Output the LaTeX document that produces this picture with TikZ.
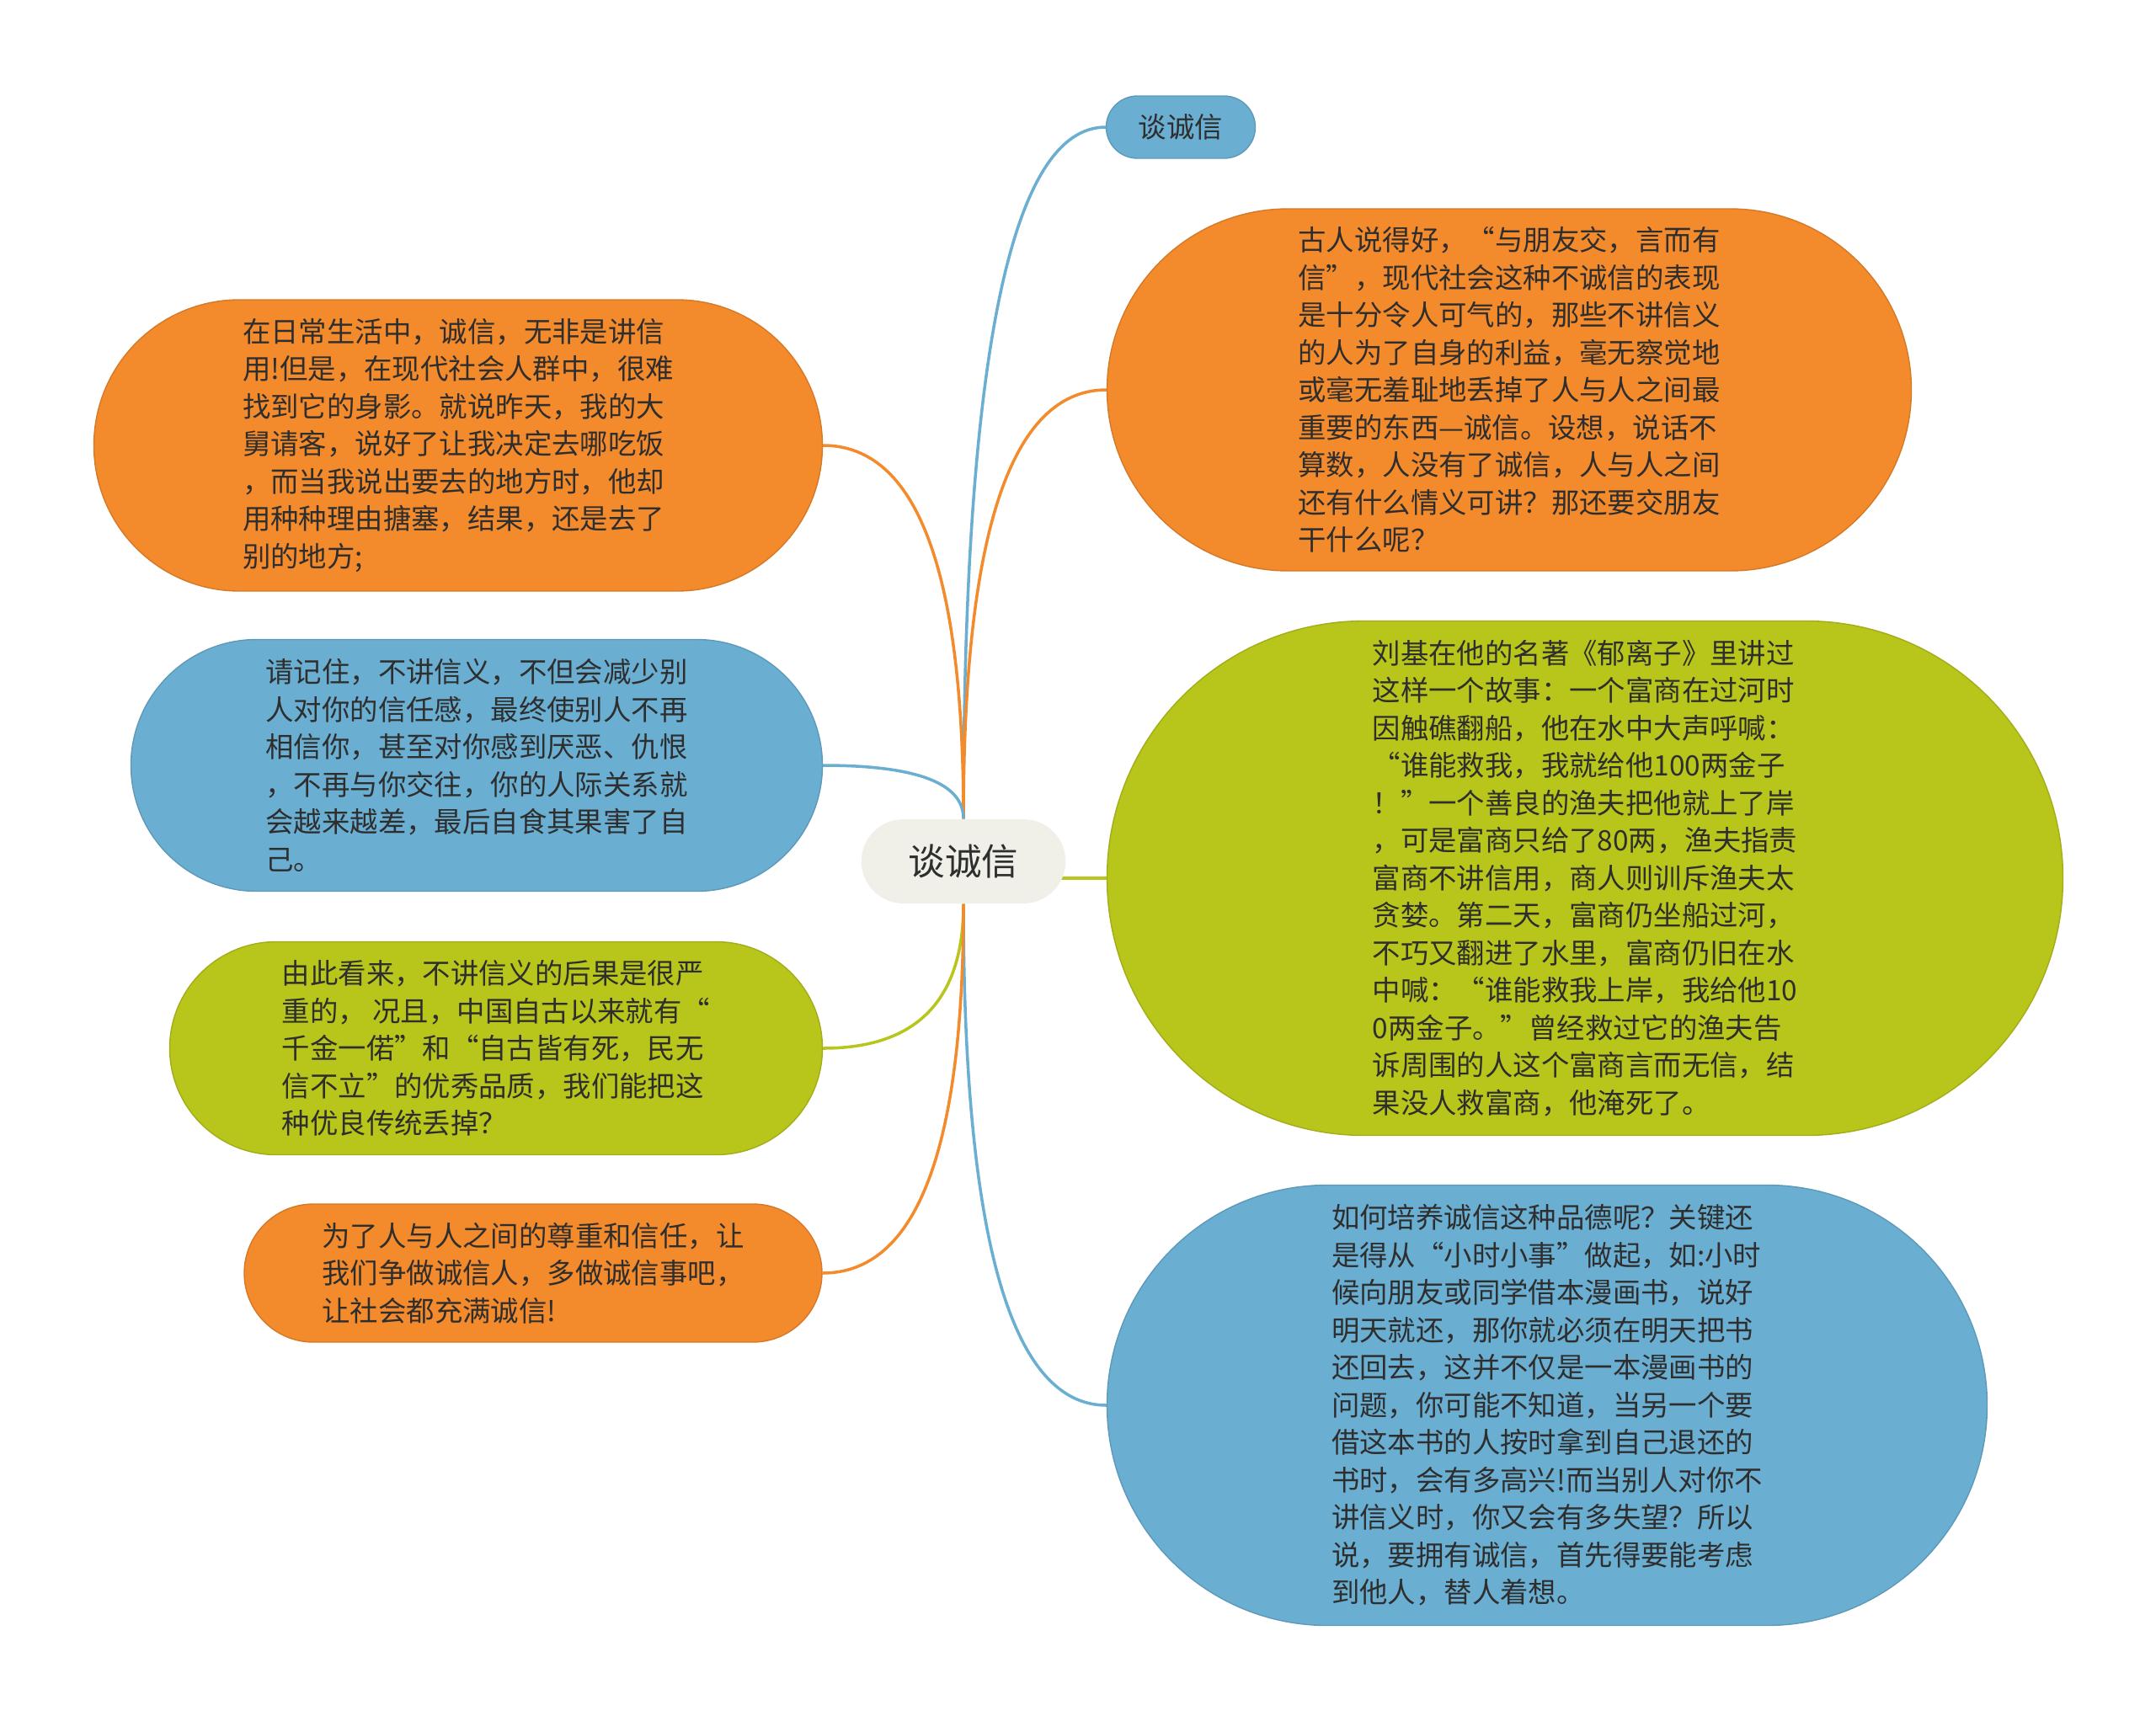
\documentclass[tikz,border=0pt]{standalone}
\usepackage{fontspec}
\newfontfamily\cjk{Noto Sans CJK SC}
\usepackage{tikz}
\usetikzlibrary{calc}
\usetikzlibrary{shapes.misc}
\usetikzlibrary{backgrounds}

\definecolor{mmorange}{HTML}{F38A2C}
\definecolor{mmblue}{HTML}{6AAED1}
\definecolor{mmgreen}{HTML}{B8C51B}
\definecolor{mmroot}{HTML}{F0F0E9}
\definecolor{mmtext}{HTML}{2E2E2E}

\tikzset{
  topic/.style={rounded rectangle, draw=#1!88!black, fill=#1, line width=0.4pt,
    align=left, text=mmtext, inner sep=0pt,
    font=\cjk\fontsize{9.5}{12.66}\selectfont},
  branch/.style={draw=#1, line width=1pt}
}

\begin{document}
\begin{tikzpicture}
			\useasboundingbox (0,0) rectangle (25.6,-20.43);
			
			% centre
			\node[rounded rectangle, fill=mmroot, text=mmtext, minimum width=2.66cm, minimum height=1cm,
			      font=\cjk\fontsize{12.4}{15}\selectfont] (root) at (11.44,-10.23) {谈诚信};
			
			% right side
			\node[topic=mmblue, minimum width=1.77cm, minimum height=0.74cm] (top) at (14.02,-1.51) {谈诚信};
			\node[topic=mmorange, minimum width=9.55cm, minimum height=4.30cm] (ro) at (17.92,-4.63)
			  {古人说得好，“与朋友交，言而有\\信”，现代社会这种不诚信的表现\\是十分令人可气的，那些不讲信义\\的人为了自身的利益，毫无察觉地\\或毫无羞耻地丢掉了人与人之间最\\重要的东西—诚信。设想，说话不\\算数，人没有了诚信，人与人之间\\还有什么情义可讲？那还要交朋友\\干什么呢？};
			\node[topic=mmgreen, minimum width=11.35cm, minimum height=6.11cm] (rg) at (18.82,-10.43)
			  {刘基在他的名著《郁离子》里讲过\\这样一个故事：一个富商在过河时\\因触礁翻船，他在水中大声呼喊：\\“谁能救我，我就给他100两金子\\！”一个善良的渔夫把他就上了岸\\，可是富商只给了80两，渔夫指责\\富商不讲信用，商人则训斥渔夫太\\贪婪。第二天，富商仍坐船过河，\\不巧又翻进了水里，富商仍旧在水\\中喊：“谁能救我上岸，我给他10\\0两金子。”曾经救过它的渔夫告\\诉周围的人这个富商言而无信，结\\果没人救富商，他淹死了。};
			\node[topic=mmblue, minimum width=10.45cm, minimum height=5.23cm] (rb) at (18.37,-16.69)
			  {如何培养诚信这种品德呢？关键还\\是得从“小时小事”做起，如:小时\\候向朋友或同学借本漫画书，说好\\明天就还，那你就必须在明天把书\\还回去，这并不仅是一本漫画书的\\问题，你可能不知道，当另一个要\\借这本书的人按时拿到自己退还的\\书时，会有多高兴!而当别人对你不\\讲信义时，你又会有多失望？所以\\说，要拥有诚信，首先得要能考虑\\到他人，替人着想。};
			
			% left side
			\node[topic=mmorange, minimum width=8.65cm, minimum height=3.46cm] (lo1) at (5.44,-5.29)
			  {在日常生活中，诚信，无非是讲信\\用!但是，在现代社会人群中，很难\\找到它的身影。就说昨天，我的大\\舅请客，说好了让我决定去哪吃饭\\，而当我说出要去的地方时，他却\\用种种理由搪塞，结果，还是去了\\别的地方;};
			\node[topic=mmblue, minimum width=8.21cm, minimum height=2.99cm] (lb) at (5.66,-9.09)
			  {请记住，不讲信义，不但会减少别\\人对你的信任感，最终使别人不再\\相信你，甚至对你感到厌恶、仇恨\\，不再与你交往，你的人际关系就\\会越来越差，最后自食其果害了自\\己。};
			\node[topic=mmgreen, minimum width=7.75cm, minimum height=2.53cm] (lg) at (5.89,-12.45)
			  {由此看来，不讲信义的后果是很严\\重的， 况且，中国自古以来就有“\\千金一偌”和“自古皆有死，民无\\信不立”的优秀品质，我们能把这\\种优良传统丢掉？};
			\node[topic=mmorange, minimum width=6.86cm, minimum height=1.64cm] (lo2) at (6.33,-15.12)
			  {为了人与人之间的尊重和信任，让\\我们争做诚信人，多做诚信事吧，\\让社会都充满诚信!};
			
			% branches
			\begin{scope}[on background layer]
			\draw[branch=mmblue] (root.north) .. controls ($(root.north)!0.667!(root.north |- top.west)$) and ($(top.west)!0.667!(root.north |- top.west)$) .. (top.west);
			\draw[branch=mmorange] (root.north) .. controls ($(root.north)!0.667!(root.north |- ro.west)$) and ($(ro.west)!0.667!(root.north |- ro.west)$) .. (ro.west);
			\draw[branch=mmgreen] (rg.west -| root.center) -- (rg.west);
			\draw[branch=mmblue] (root.south) .. controls ($(root.south)!0.667!(root.south |- rb.west)$) and ($(rb.west)!0.667!(root.south |- rb.west)$) .. (rb.west);
			\draw[branch=mmorange] (root.north) .. controls ($(root.north)!0.667!(root.north |- lo1.east)$) and ($(lo1.east)!0.667!(root.north |- lo1.east)$) .. (lo1.east);
			\draw[branch=mmblue] (root.north) .. controls ($(root.north)!0.667!(root.north |- lb.east)$) and ($(lb.east)!0.667!(root.north |- lb.east)$) .. (lb.east);
			\draw[branch=mmgreen] (root.south) .. controls ($(root.south)!0.667!(root.south |- lg.east)$) and ($(lg.east)!0.667!(root.south |- lg.east)$) .. (lg.east);
			\draw[branch=mmorange] (root.south) .. controls ($(root.south)!0.667!(root.south |- lo2.east)$) and ($(lo2.east)!0.667!(root.south |- lo2.east)$) .. (lo2.east);
			\end{scope}
\end{tikzpicture}
\end{document}
